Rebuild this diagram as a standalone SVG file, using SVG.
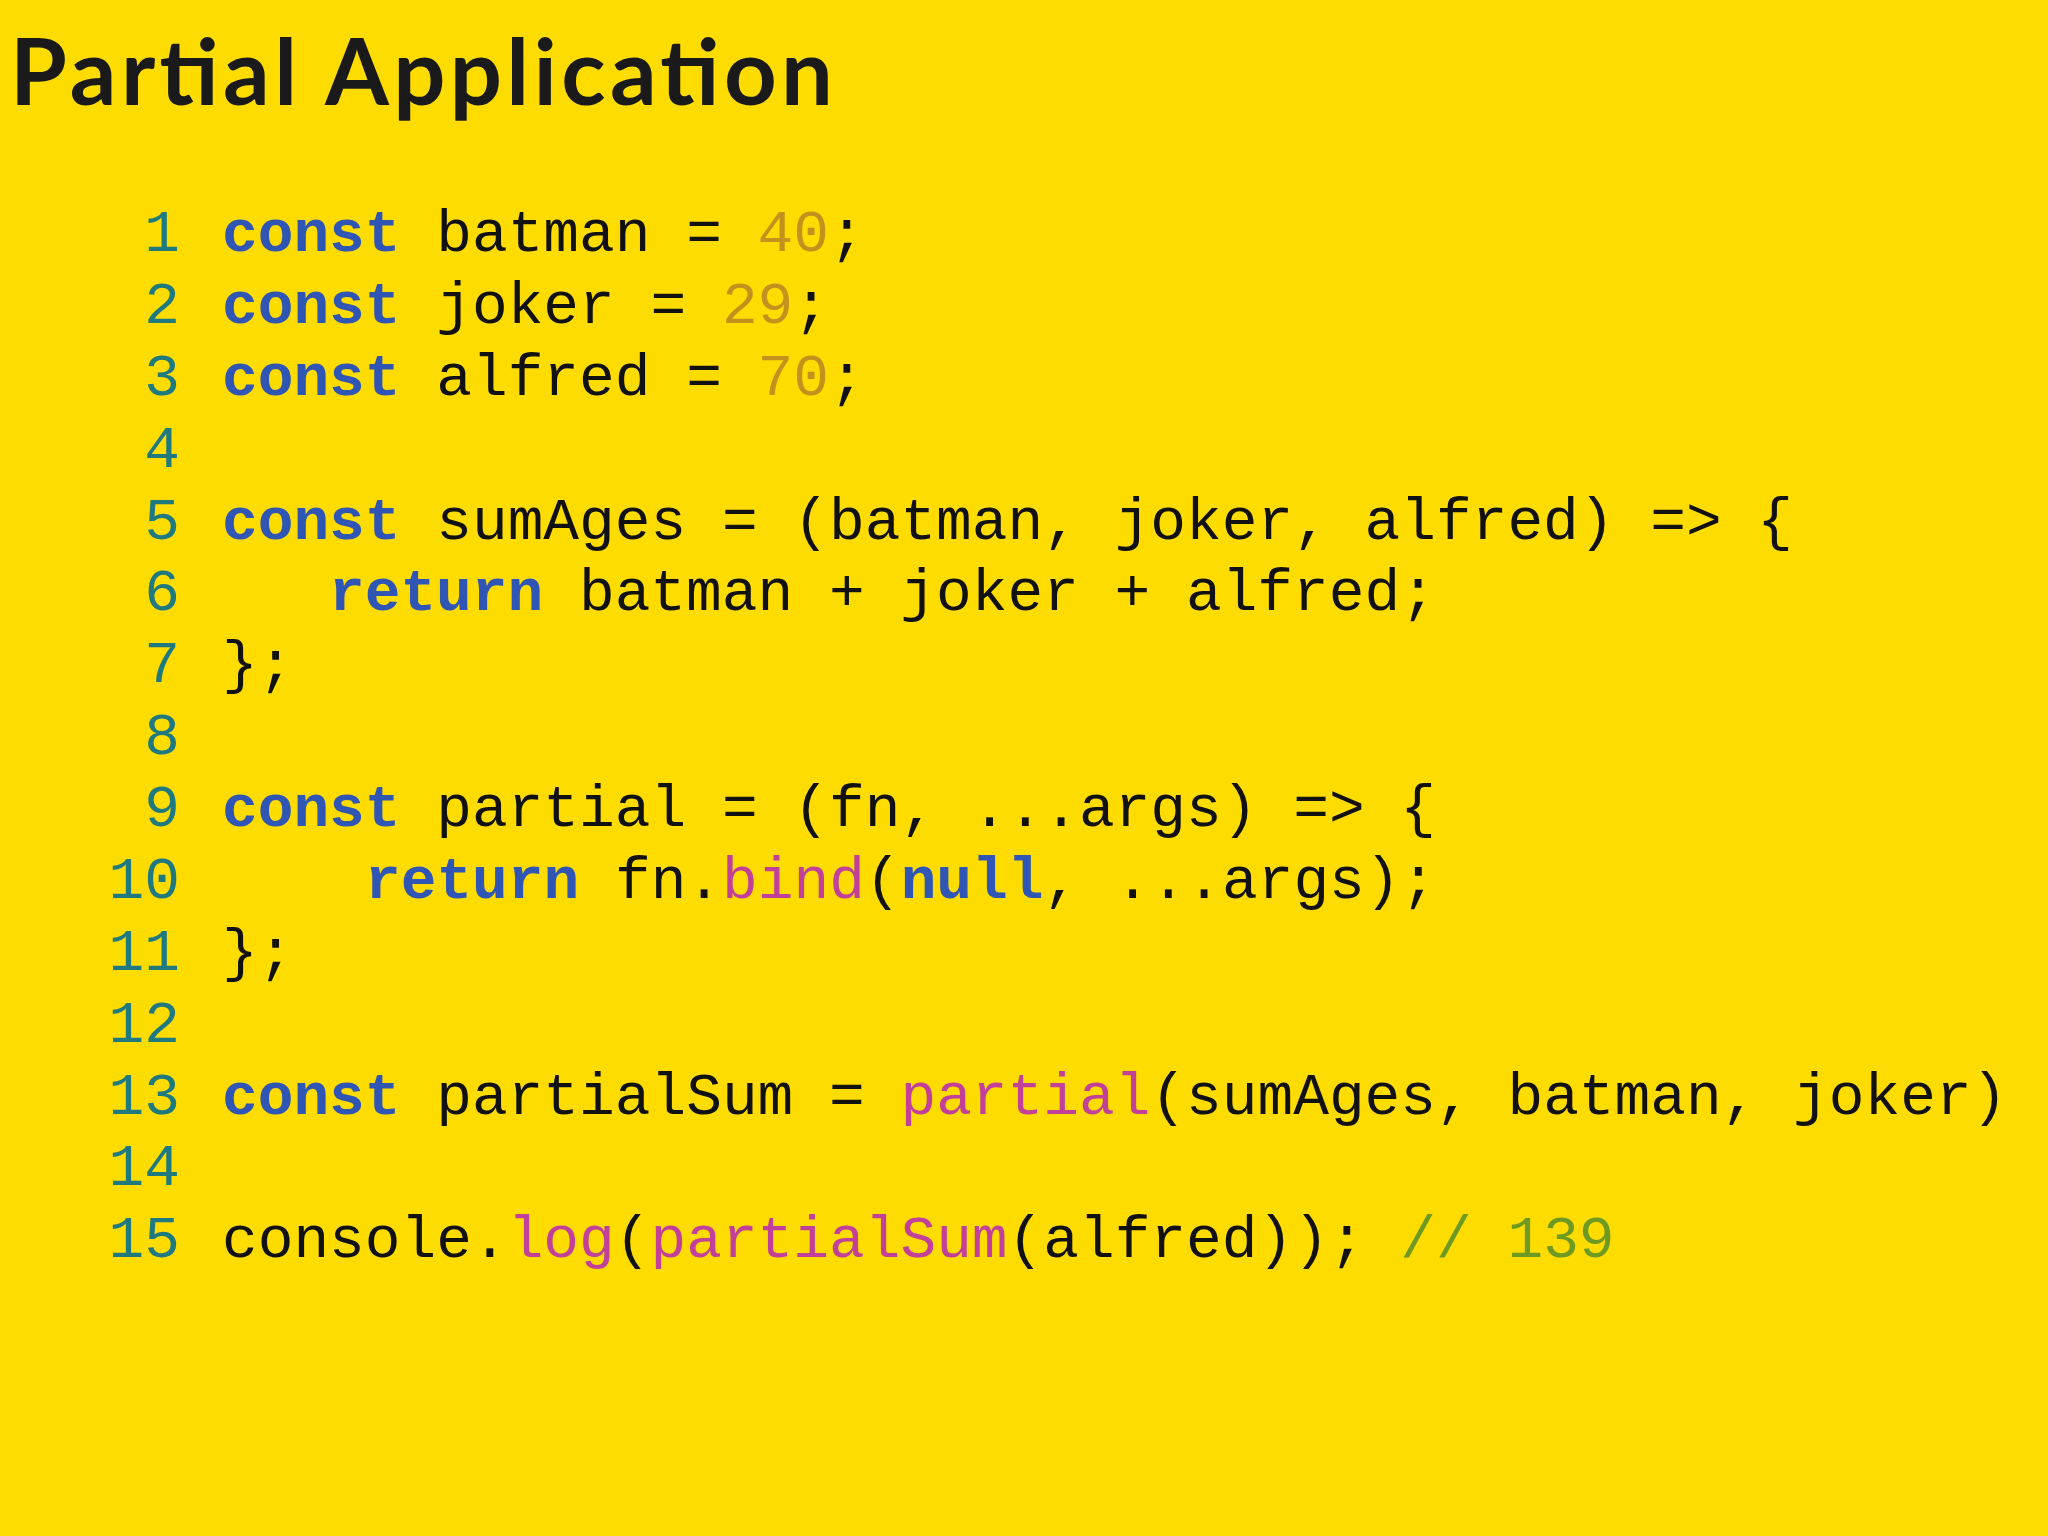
<svg xmlns="http://www.w3.org/2000/svg" width="2048" height="1536" viewBox="0 0 2048 1536">
<style>
.c{font-family:"Liberation Mono","DejaVu Sans Mono",monospace;font-size:59.5px;fill:#111;white-space:pre}
.n{font-family:"Liberation Mono","DejaVu Sans Mono",monospace;font-size:59.5px;fill:#1F7A80;text-anchor:end}
.k{fill:#2F55B5;font-weight:bold}
.num{fill:#C4921C}
.p{fill:#C2409A}
.cm{fill:#6E9A22}
</style>
<rect width="2048" height="1536" fill="#FFDC00"/>
<text x="10" y="105" font-family="Lato,'Open Sans',sans-serif" font-weight="700" font-size="92" fill="#1A1A1A" textLength="823">Partial Application</text>
<g id="lines">
<text class="n" x="180" y="251">1</text>
<text class="n" x="180" y="323">2</text>
<text class="n" x="180" y="395">3</text>
<text class="n" x="180" y="467">4</text>
<text class="n" x="180" y="539">5</text>
<text class="n" x="180" y="610">6</text>
<text class="n" x="180" y="682">7</text>
<text class="n" x="180" y="754">8</text>
<text class="n" x="180" y="826">9</text>
<text class="n" x="180" y="898">10</text>
<text class="n" x="180" y="970">11</text>
<text class="n" x="180" y="1042">12</text>
<text class="n" x="180" y="1114">13</text>
<text class="n" x="180" y="1185">14</text>
<text class="n" x="180" y="1257">15</text>
</g>
<g id="code">
<text class="c" x="222" y="251"><tspan class="k">const</tspan> batman = <tspan class="num">40</tspan>;</text>
<text class="c" x="222" y="323"><tspan class="k">const</tspan> joker = <tspan class="num">29</tspan>;</text>
<text class="c" x="222" y="395"><tspan class="k">const</tspan> alfred = <tspan class="num">70</tspan>;</text>
<text class="c" x="222" y="539"><tspan class="k">const</tspan> sumAges = (batman, joker, alfred) =&gt; {</text>
<text class="c" x="329" y="610"><tspan class="k">return</tspan> batman + joker + alfred;</text>
<text class="c" x="222" y="682">};</text>
<text class="c" x="222" y="826"><tspan class="k">const</tspan> partial = (fn, ...args) =&gt; {</text>
<text class="c" x="365" y="898"><tspan class="k">return</tspan> fn.<tspan class="p">bind</tspan>(<tspan class="k">null</tspan>, ...args);</text>
<text class="c" x="222" y="970">};</text>
<text class="c" x="222" y="1114"><tspan class="k">const</tspan> partialSum = <tspan class="p">partial</tspan>(sumAges, batman, joker)</text>
<text class="c" x="222" y="1257">console.<tspan class="p">log</tspan>(<tspan class="p">partialSum</tspan>(alfred)); <tspan class="cm">// 139</tspan></text>
</g>
</svg>
